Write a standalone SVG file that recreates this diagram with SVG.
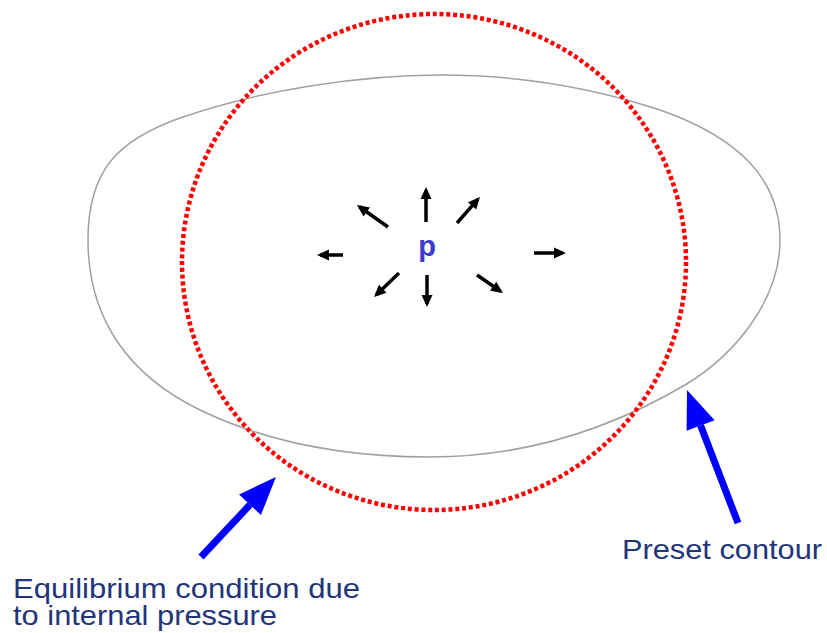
<svg xmlns="http://www.w3.org/2000/svg" width="827" height="633" viewBox="0 0 827 633">
<style>
.contour{fill:none;stroke:#a0a0a0;stroke-width:1.5}
.equil{fill:none;stroke:#ff0000;stroke-width:4.5;stroke-dasharray:4 2.8}
.parrow{stroke:#000;stroke-width:3.5;fill:none;marker-end:url(#hb)}
.big{stroke:#0000ff;stroke-width:7;fill:none;marker-end:url(#hblue)}
.lbl{font-family:"Liberation Sans",Arial,sans-serif;font-size:28px;fill:#22357a}
.p{font-family:"Liberation Sans",Arial,sans-serif;font-size:29px;font-weight:bold;fill:#3a3acc}
</style>
<defs>
<marker id="hb" markerUnits="userSpaceOnUse" markerWidth="12" markerHeight="11" refX="9" refY="5.5" orient="auto" overflow="visible">
<path d="M0,0 L12,5.5 L0,11 Z" fill="#000"/>
</marker>
<marker id="hblue" markerUnits="userSpaceOnUse" markerWidth="38" markerHeight="30" refX="0" refY="15" orient="auto" overflow="visible">
<path d="M0,0 L38,15 L0,30 Z" fill="#0000ff"/>
</marker>
</defs>
<rect width="827" height="633" fill="#fff"/>
<g id="preset-contour">
<path class="contour" d="M 88 240 C 88 170, 118 140, 180 118 C 260 90, 360 75, 440 75 C 530 75, 600 90, 660 110 C 740 138, 780 180, 780 240 C 780 300, 735 355, 685 385 C 605 432, 520 457, 430 457 C 340 457, 262 440, 200 410 C 130 376, 88 320, 88 240 Z"/>
</g>
<g id="equilibrium-contour">
<ellipse class="equil" cx="434" cy="262" rx="252" ry="248"/>
</g>
<g id="pressure">
<text class="p" x="427" y="256" text-anchor="middle">p</text>
</g>
<g id="connectors">
<line class="parrow" x1="426" y1="222" x2="426" y2="190"/>
<line class="parrow" x1="457" y1="223" x2="478" y2="199.2"/>
<line class="parrow" x1="388" y1="227" x2="359.4" y2="206.7"/>
<line class="parrow" x1="343" y1="255" x2="320" y2="255"/>
<line class="parrow" x1="534" y1="253" x2="563" y2="253"/>
<line class="parrow" x1="399" y1="273" x2="376.2" y2="294.9"/>
<line class="parrow" x1="427" y1="275" x2="427" y2="304"/>
<line class="parrow" x1="477" y1="275" x2="500.5" y2="291.3"/>
<line class="big" x1="201" y1="557" x2="250" y2="504.7"/>
<line class="big" x1="738" y1="523" x2="700.6" y2="425.5"/>
</g>
<g id="label-preset">
<text class="lbl" x="622" y="559" textLength="200" lengthAdjust="spacingAndGlyphs">Preset contour</text>
</g>
<g id="label-equilibrium">
<text class="lbl" x="13" y="598" textLength="347" lengthAdjust="spacingAndGlyphs">Equilibrium condition due</text>
<text class="lbl" x="13" y="625" textLength="264" lengthAdjust="spacingAndGlyphs">to internal pressure</text>
</g>
</svg>
